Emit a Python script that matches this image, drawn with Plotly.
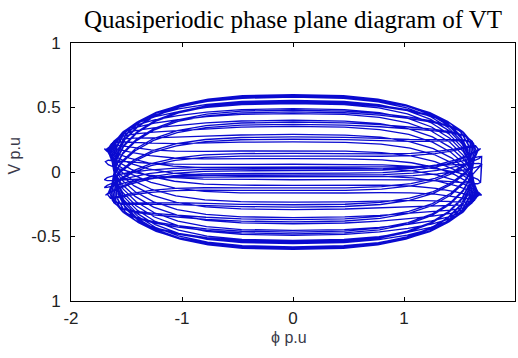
import numpy as np
import plotly.graph_objects as go

# Phase-plane trajectory of VT: successive loops of flux (phi) vs voltage (V), p.u.
# Per loop: half-width in phi, V at phi = 0 (height) and V at the phi extremes (end offset).
loop_heights = [0.600, 0.585, 0.539, 0.466, 0.369, 0.254, 0.125, 0.010, 0.145, 0.272,
                0.386, 0.479, 0.548, 0.589, 0.600, 0.580, 0.530, 0.453, 0.353, 0.234,
                0.104, 0.031, 0.165, 0.291, 0.401, 0.491, 0.556, 0.593,
                0.040, 0.060, 0.025]
loop_end_offsets = [0.000, 0.040, 0.079, 0.113, 0.142, 0.163, 0.176, 0.180, 0.175, 0.160,
                    0.138, 0.109, 0.073, 0.034, -0.006, -0.047, -0.085, -0.118, -0.146, -0.166,
                    -0.177, -0.180, -0.173, -0.157, -0.134, -0.103, -0.067, -0.028,
                    0.060, -0.080, 0.120]
loop_widths = [1.60, 1.61, 1.62, 1.63, 1.64, 1.65, 1.67, 1.69, 1.67, 1.65,
               1.64, 1.63, 1.62, 1.61, 1.60, 1.61, 1.62, 1.63, 1.64, 1.66,
               1.68, 1.70, 1.67, 1.65, 1.64, 1.63, 1.62, 1.61,
               1.70, 1.69, 1.70]

# Normalised shape of one loop (upper half, from right end to left end)
shape_u_top = [1.0, 0.985, 0.941, 0.867, 0.766, 0.636, 0.478, 0.284, 0.0,
               -0.284, -0.478, -0.636, -0.766, -0.867, -0.941, -0.985, -1.0]
shape_v_top = [0.0, 0.284, 0.478, 0.636, 0.766, 0.867, 0.941, 0.985, 1.0,
               0.985, 0.941, 0.867, 0.766, 0.636, 0.478, 0.284, 0.0]
# How strongly the end offset acts along the loop (only near the phi extremes)
shape_end_top = [1.0, 0.927, 0.738, 0.490, 0.264, 0.104, 0.025, 0.002, 0.0,
                 -0.002, -0.025, -0.104, -0.264, -0.490, -0.738, -0.927, -1.0]

# Close the loop through the lower half (mirror of the upper half)
shape_u = np.array(shape_u_top + shape_u_top[-2::-1])
shape_v = np.array(shape_v_top + [-v for v in shape_v_top[-2::-1]])
shape_end = np.array(shape_end_top + shape_end_top[-2::-1])

phi = np.concatenate([w * shape_u for w in loop_widths])
volt = np.concatenate([h * shape_v + c * shape_end
                       for h, c in zip(loop_heights, loop_end_offsets)])

x_ticks = [-2, -1, 0, 1, 2]
y_ticks = [-1, -0.5, 0, 0.5, 1]
y_tick_text = ["1", "-0.5", "0", "0.5", "1"]

fig = go.Figure()
fig.add_trace(go.Scatter(
    x=phi, y=volt, mode="lines",
    line=dict(color="#0a0ad0", width=1.3),
    hoverinfo="skip", showlegend=False,
))

axis_common = dict(
    showgrid=False, zeroline=False,
    showline=True, linecolor="black", linewidth=1, mirror="ticks",
    ticks="inside", ticklen=4, tickcolor="black",
    tickfont=dict(family="Liberation Sans, Arial, sans-serif", size=17, color="#222222"),
)

fig.update_layout(
    width=518, height=358,
    margin=dict(l=71, r=3, t=43, b=57),
    paper_bgcolor="white", plot_bgcolor="white",
    title=dict(
        text="Quasiperiodic phase plane diagram of VT",
        font=dict(family="Liberation Serif, Times New Roman, serif", size=25, color="black"),
        x=0.5, xref="paper", xanchor="center",
        y=1 - 19 / 358, yref="container", yanchor="middle",
    ),
    xaxis=dict(range=[-2, 2], tickvals=x_ticks, ticktext=[str(v) for v in x_ticks],
               ticklabelstandoff=2, **axis_common),
    yaxis=dict(range=[-1, 1], tickvals=y_ticks, ticktext=y_tick_text,
               ticklabelstandoff=6, **axis_common),
    annotations=[
        dict(text="ϕ p.u", xref="paper", yref="paper", x=0.49, y=-36 / 258,
             xanchor="center", yanchor="middle", showarrow=False,
             font=dict(family="Liberation Sans, Arial, sans-serif", size=16, color="#3a3a4a")),
        dict(text="V p.u", xref="paper", yref="paper", x=-56 / 444, y=0.56,
             xanchor="center", yanchor="middle", showarrow=False, textangle=-90,
             font=dict(family="Liberation Sans, Arial, sans-serif", size=16, color="#3a3a4a")),
    ],
)

fig.write_html("out.html")
